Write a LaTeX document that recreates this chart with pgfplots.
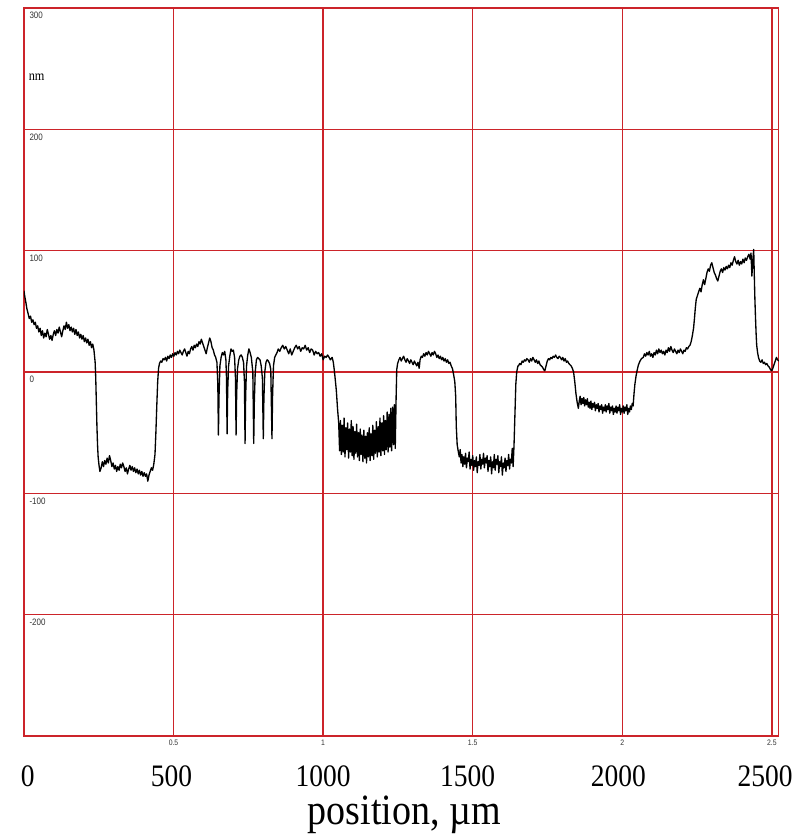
\documentclass[border=0pt]{standalone}
\usepackage{fontspec}
\setmainfont{Liberation Serif}
\newfontfamily\bigserif[FakeStretch=0.88]{Liberation Serif}
\newfontfamily\smallsans[FakeStretch=0.86]{Liberation Sans}
\usepackage{pgfplots}
\usepackage{pgfplotstable}
\pgfplotsset{compat=1.18}
\definecolor{gridred}{RGB}{204,36,42}

% surface height profile: position (um), height (nm)
\pgfplotstableread{
x y
0 67
3 62
6 58
10 52
14 48
18 44
22 46
26 41
30 43
34 39
38 41
42 36
46 38
50 33
54 36
58 30
62 34
66 28
70 32
74 29
78 35
82 31
86 27
90 30
94 26
98 31
102 34
106 30
110 35
114 32
118 37
122 33
126 29
130 34
134 38
138 35
142 41
146 36
150 39
154 34
158 37
162 33
166 36
170 31
174 35
178 30
182 33
186 28
190 31
194 27
198 30
202 25
206 28
210 24
214 27
218 22
222 25
226 20
230 23
234 18
238 8
240 -5
242 -25
244 -45
246 -60
248 -70
251 -77
254 -82
258 -79
262 -74
266 -78
270 -73
274 -76
278 -71
282 -75
286 -69
290 -73
294 -78
298 -75
302 -80
306 -77
310 -82
314 -78
318 -81
322 -76
326 -79
330 -75
334 -78
338 -82
342 -79
346 -84
350 -80
354 -77
358 -81
362 -78
366 -82
370 -79
374 -83
378 -80
382 -84
386 -81
390 -85
394 -82
398 -86
402 -83
406 -86
410 -84
414 -90
418 -85
422 -82
426 -79
430 -81
434 -76
438 -68
441 -50
444 -28
447 -8
450 3
453 7
457 9
461 8
465 11
469 10
473 12
477 9
481 13
485 11
489 14
493 12
497 15
501 13
505 16
509 14
513 17
517 15
521 18
525 16
529 14
533 17
537 19
541 16
545 13
549 17
553 15
557 19
561 21
565 18
569 22
573 20
577 23
581 21
585 25
589 23
593 27
597 24
601 21
605 18
609 15
613 20
617 24
621 28
625 25
629 20
633 18
637 14
641 12
645 8
648 -10
650 -52
652 -20
655 5
659 12
663 16
667 14
671 17
675 10
677 -5
679 -51
681 -15
684 5
688 13
692 19
696 17
700 18
704 12
707 -5
709 -52
711 -18
714 3
718 10
722 13
726 14
730 12
734 8
737 -8
739 -59
741 -20
744 5
748 14
752 19
756 16
760 12
765 0
768 -59
770 -25
773 0
777 10
781 12
785 11
789 10
793 5
797 -5
800 -55
802 -22
805 0
809 8
813 10
817 9
821 7
825 2
829 -55
831 -20
834 5
838 12
842 14
846 16
850 19
855 17
860 20
865 22
870 19
875 21
880 18
885 15
890 19
895 14
900 17
905 20
910 22
915 19
920 21
925 17
930 20
935 19
940 22
945 18
950 20
955 16
960 19
965 18
970 14
975 17
980 15
985 16
990 13
995 15
1000 10
1005 13
1010 12
1015 14
1020 12
1024 10
1030 12
1034 8
1037 2
1040 -5
1044 -15
1048 -30
1052 -42
1055 -65
1058 -40
1061 -68
1064 -44
1067 -66
1070 -38
1073 -70
1076 -46
1079 -64
1082 -42
1085 -71
1088 -47
1091 -66
1094 -40
1097 -69
1100 -45
1103 -72
1106 -49
1109 -67
1112 -43
1115 -70
1118 -50
1121 -73
1124 -47
1127 -68
1130 -52
1133 -74
1136 -48
1139 -71
1142 -53
1145 -75
1148 -50
1151 -70
1154 -46
1157 -73
1160 -51
1163 -69
1166 -44
1169 -72
1172 -48
1175 -67
1178 -41
1181 -70
1184 -45
1187 -66
1190 -38
1193 -69
1196 -42
1199 -65
1202 -36
1205 -68
1208 -40
1211 -64
1214 -33
1217 -66
1220 -35
1223 -62
1226 -30
1229 -65
1232 -29
1235 -60
1238 -27
1241 -63
1244 -20
1246 2
1249 7
1253 10
1257 12
1261 9
1265 11
1269 13
1273 10
1277 8
1281 11
1285 9
1289 7
1293 10
1297 8
1301 6
1305 9
1309 7
1313 5
1317 8
1321 3
1324 10
1328 13
1332 12
1336 15
1340 13
1344 16
1348 14
1352 17
1356 15
1360 13
1364 16
1368 14
1372 17
1376 15
1380 12
1384 14
1388 11
1392 13
1396 10
1400 12
1404 9
1408 11
1412 8
1416 10
1420 7
1424 8
1428 5
1432 3
1436 -2
1440 -8
1443 -20
1445 -45
1448 -60
1452 -66
1455 -70
1458 -64
1461 -75
1464 -68
1467 -78
1470 -70
1473 -76
1476 -67
1479 -79
1482 -71
1485 -74
1488 -66
1491 -80
1494 -72
1497 -77
1500 -69
1503 -81
1506 -73
1509 -78
1512 -70
1515 -83
1518 -74
1521 -77
1524 -68
1527 -80
1530 -72
1533 -76
1536 -67
1539 -79
1542 -71
1545 -75
1548 -69
1551 -82
1554 -73
1557 -78
1560 -70
1563 -84
1566 -74
1569 -79
1572 -68
1575 -81
1578 -72
1581 -76
1584 -69
1587 -83
1590 -74
1593 -78
1596 -70
1599 -85
1602 -75
1605 -79
1608 -71
1611 -82
1614 -73
1617 -77
1620 -68
1623 -80
1626 -72
1629 -75
1632 -63
1635 -78
1638 -60
1641 -35
1644 -10
1647 0
1651 5
1653 5
1657 7
1661 6
1665 9
1669 8
1673 10
1677 9
1681 11
1685 10
1689 8
1693 11
1697 9
1701 12
1705 10
1709 8
1713 10
1717 7
1721 9
1725 6
1729 5
1733 4
1737 2
1741 1
1745 5
1749 9
1753 11
1757 10
1761 12
1765 11
1769 13
1773 12
1777 14
1781 12
1785 11
1789 13
1793 12
1797 10
1801 12
1805 9
1809 11
1813 8
1817 9
1821 7
1825 6
1829 5
1833 3
1837 0
1841 -8
1845 -18
1849 -25
1853 -30
1856 -24
1859 -20
1862 -27
1865 -22
1868 -26
1871 -21
1874 -28
1877 -23
1880 -27
1883 -22
1886 -29
1889 -25
1892 -30
1895 -24
1898 -31
1901 -26
1904 -29
1907 -25
1910 -32
1913 -27
1916 -30
1919 -26
1922 -33
1925 -28
1928 -31
1931 -27
1934 -34
1937 -29
1940 -32
1943 -27
1946 -33
1949 -28
1952 -31
1955 -26
1958 -34
1961 -29
1964 -32
1967 -28
1970 -35
1973 -30
1976 -33
1979 -28
1982 -34
1985 -29
1988 -32
1991 -27
1994 -35
1997 -30
2000 -33
2003 -28
2006 -34
2009 -29
2012 -32
2015 -27
2018 -35
2021 -30
2024 -33
2027 -28
2030 -31
2033 -26
2036 -28
2039 -18
2042 -10
2046 -3
2050 2
2054 6
2059 9
2064 11
2070 12
2074 15
2078 13
2082 16
2086 14
2090 17
2094 13
2098 15
2102 12
2106 16
2110 14
2114 18
2118 15
2122 19
2126 16
2130 18
2134 15
2138 17
2142 14
2146 18
2150 16
2154 20
2158 17
2162 21
2166 18
2170 16
2174 19
2178 17
2182 15
2186 18
2190 16
2194 19
2198 17
2202 15
2206 18
2210 17
2214 20
2218 19
2222 21
2226 22
2230 25
2234 30
2238 36
2241 44
2244 53
2247 60
2251 63
2255 66
2259 69
2263 66
2267 72
2271 76
2275 72
2279 77
2283 82
2287 85
2291 83
2295 88
2299 90
2303 86
2307 82
2311 80
2315 77
2319 75
2323 79
2327 83
2331 85
2335 82
2339 86
2343 84
2347 87
2351 85
2355 88
2359 86
2363 90
2367 88
2371 92
2375 95
2379 91
2383 89
2387 92
2391 88
2395 91
2399 89
2403 93
2407 90
2411 94
2415 92
2419 95
2423 97
2427 93
2430 98
2433 79
2436 92
2439 101
2441 80
2443 60
2445 45
2447 32
2449 22
2452 16
2455 12
2459 9
2463 8
2467 10
2471 7
2475 8
2479 6
2483 7
2487 5
2491 4
2495 2
2499 1
2503 3
2507 6
2511 9
2515 12
2519 10
2523 9
}\profile

\begin{document}
\begin{tikzpicture}
% page frame
\path (-18pt,-75pt) rectangle (591pt,553.5pt);
\begin{axis}[
  at={(0,0)}, anchor=south west,
  scale only axis,
  width=567.75pt, height=547.5pt,
  xmin=0, xmax=2523,
  ymin=-300, ymax=300,
  axis line style={gridred, line width=1pt},
  xmajorgrids=true, ymajorgrids=true,
  major grid style={draw=gridred, line width=1pt},
  tick style={draw=none},
  xtick={500,1000,1500,2000,2500},
  xticklabels={0.5,1,1.5,2,2.5},
  xticklabel style={font=\smallsans\fontsize{6}{6}\selectfont, anchor=base, yshift=-7.5pt, text=black!80},
  ytick={-200,-100,0,100,200,300},
  yticklabels={-200,-100,0,100,200,300},
  yticklabel style={font=\smallsans\fontsize{7}{7}\selectfont, anchor=north west, inner sep=3pt, xshift=1pt, text=black!80},
  extra x ticks={13,493,1000,1483,1987,2477},
  extra x tick labels={0,500,1000,1500,2000,2500},
  extra x tick style={xmajorgrids=false, ymajorgrids=false,
    xticklabel style={font=\bigserif\fontsize{23.5}{23.5}\selectfont, anchor=base, yshift=-30.5pt, text=black}},
  xlabel={position, µm},
  xlabel style={font=\bigserif\fontsize{32.5}{32.5}\selectfont, at={(axis description cs:0.5,0)}, anchor=base, yshift=-66.5pt, xshift=2.25pt},
]
\addplot[black, line width=1pt, line join=round] table[x=x, y=y] {\profile};
\node[font=\bigserif\fontsize{10.5}{10.5}\selectfont, anchor=west, inner sep=3pt, xshift=0.5pt] at (axis cs:0,243) {nm};
\end{axis}
\end{tikzpicture}
\end{document}
